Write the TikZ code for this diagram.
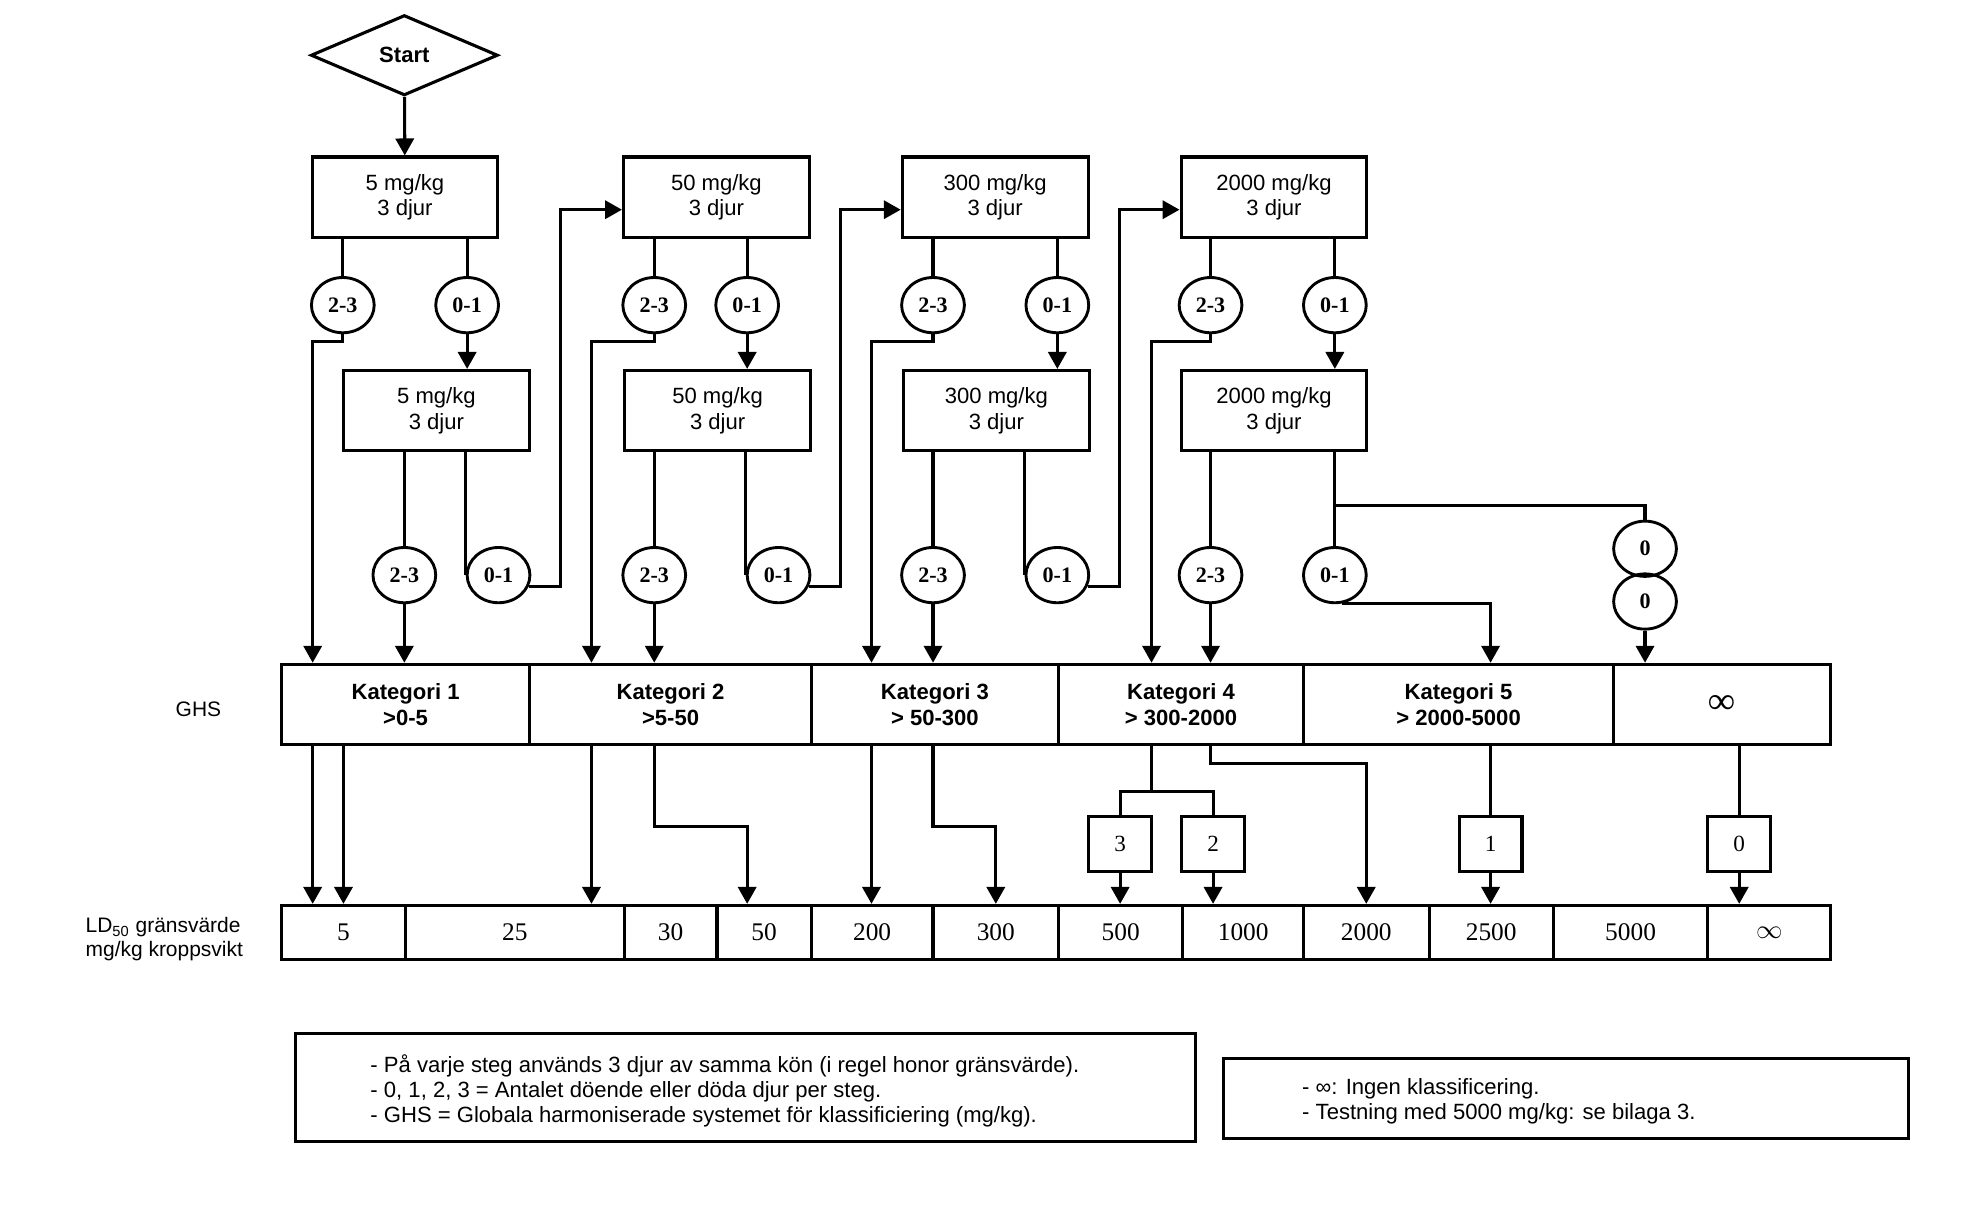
\documentclass[tikz,border=0pt]{standalone}
\usepackage{fontspec}
\setmainfont{Liberation Sans}
\newfontfamily\serifnum{Liberation Serif}
\usetikzlibrary{arrows.meta,shapes.geometric}

\begin{document}
\begin{tikzpicture}[x=0.02cm, y=-0.02cm,
    line/.style={line width=1.4pt},
    arr/.style={line width=1.4pt, -{Triangle[length=2.7mm,width=2.9mm]}},
    dose/.style={draw, line width=1.4pt, minimum width=2.96cm, minimum height=1.28cm,
      align=center, font=\fontsize{10}{11.5}\selectfont},
    cnt/.style={draw, ellipse, line width=1.3pt, minimum width=1cm, minimum height=0.88cm,
      inner sep=0pt, font=\serifnum\bfseries\fontsize{10}{11}\selectfont},
    kat/.style={draw, line width=1.4pt, minimum height=1.28cm, align=center,
      font=\bfseries\fontsize{10}{11.5}\selectfont},
    val/.style={draw, line width=1.4pt, minimum height=0.86cm,
      font=\serifnum\fontsize{11.5}{12}\selectfont},
    res/.style={draw, line width=1.4pt, minimum width=1cm, minimum height=0.88cm,
      font=\serifnum\fontsize{10.5}{12}\selectfont},
    note/.style={anchor=west, align=left, font=\fontsize{10}{11.4}\selectfont}]
  \fill[white] (0,0) rectangle (1568,979);
  \useasboundingbox (0,0) rectangle (1568,979);

  % start and dose steps
  \node[draw, diamond, line width=1.4pt, minimum width=2.98cm, minimum height=1.28cm,
    inner sep=0pt, font=\bfseries\fontsize{10}{12}\selectfont] (start) at (322,44) {Start};
  \node[dose] (a1) at (322.5,157) {5 mg/kg\\3 djur};
  \node[dose] (a2) at (570.5,157) {50 mg/kg\\3 djur};
  \node[dose] (a3) at (792.5,157) {300 mg/kg\\3 djur};
  \node[dose] (a4) at (1014.5,157) {2000 mg/kg\\3 djur};
  \node[dose] (b1) at (347.5,327) {5 mg/kg\\3 djur};
  \node[dose] (b2) at (571.5,327) {50 mg/kg\\3 djur};
  \node[dose] (b3) at (793.5,327) {300 mg/kg\\3 djur};
  \node[dose] (b4) at (1014.5,327) {2000 mg/kg\\3 djur};

  % dead animals per step
  \foreach \i/\xa/\xb/\xc/\xd in {1/273/372/322/397, 2/521/595/521/620,
      3/743/842/743/842, 4/964/1063/964/1063} {
    \node[cnt] (c\i1) at (\xa,243) {2-3};
    \node[cnt] (c\i2) at (\xb,243) {0-1};
    \node[cnt] (d\i1) at (\xc,458) {2-3};
    \node[cnt] (d\i2) at (\xd,458) {0-1};
  }
  \node[cnt] (o1) at (1310,437) {0};
  \node[cnt] (o2) at (1310,479) {0};

  % GHS categories
  \foreach \xl/\xr/\txt [count=\i] in {224/422/{Kategori 1\\>0-5}, 422/646/{Kategori 2\\>5-50},
      646/843/{Kategori 3\\> 50-300}, 843/1038/{Kategori 4\\> 300-2000},
      1038/1285/{Kategori 5\\> 2000-5000}} {
    \pgfmathsetmacro\cw{(\xr-\xl)*0.02}
    \pgfmathsetmacro\cx{(\xl+\xr)/2}
    \node[kat, minimum width=\cw cm] (k\i) at (\cx,561) {\txt};
  }
  \node[kat, minimum width=3.46cm, font=\serifnum\bfseries\fontsize{17}{17}\selectfont] (k6)
    at (1371.5,561) {∞};

  % LD50 cut-off values
  \foreach \xl/\xr/\txt [count=\i] in {224/323/5, 323/497/25, 497/571/30, 571/646/50,
      646/743/200, 743/843/300, 843/942/500, 942/1038/1000, 1038/1138/2000,
      1138/1237/2500, 1237/1360/5000} {
    \pgfmathsetmacro\cw{(\xr-\xl)*0.02}
    \pgfmathsetmacro\cx{(\xl+\xr)/2}
    \node[val, minimum width=\cw cm] (v\i) at (\cx,742.5) {\txt};
  }
  \node[val, minimum width=1.96cm, font=\fontsize{12}{12}\selectfont] (v12) at (1409,742.5)
    {$\infty$};

  \node[res] (n3) at (892,672) {3};
  \node[res] (n2) at (966,672) {2};
  \node[res] (n1) at (1187,672) {1};
  \node[res] (n0) at (1385,672) {0};

  \node[font=\fontsize{9.5}{11}\selectfont] (ghs) at (158,565) {GHS};
  \node[anchor=west, align=left, font=\fontsize{9.5}{10.8}\selectfont] (ld) at (62,748)
    {LD\textsubscript{50} gränsvärde\\mg/kg kroppsvikt};

  % connectors
  \draw[arr] (start) -- (a1);
  \foreach \i/\dx in {1/-24, 2/-50, 3/-49, 4/-47} {
    \draw[line] (a\i.south -| c\i1) -- (c\i1);
    \draw[line] (a\i.south -| c\i2) -- (c\i2);
    \draw[arr] (c\i2) -- (c\i2 |- b\i.north);
    \draw[line] (b\i.south -| d\i1) -- (d\i1);
    \draw[arr] (d\i1) -- (d\i1 |- k\i.north);
    \draw[arr] (c\i1.south) -- ++(0,6) -- ++(\dx,0) coordinate (t\i) -- (t\i |- k\i.north);
  }
  \foreach \i/\j in {1/2, 2/3, 3/4} {
    \draw[line] (b\i.south -| d\i2.west) -- (d\i2.west);
    \draw[arr] (d\i2.-20) -- ++(25,0) |- ([yshift=-0.2cm]a\j.west);
  }
  \draw[line] (b4.south -| d42) -- (d42);
  \draw[line] (b4.south -| d42) ++(0,42) -| (o1.north);
  \draw[arr] (o2) -- (o2 |- k6.north);
  \draw[arr] (d42.-75) -| (n1 |- k5.north);

  \draw[arr] (t1 |- k1.south) -- (t1 |- v1.north);
  \draw[arr] (k1.south -| v1) -- (v1.north);
  \draw[arr] (t2 |- k2.south) -- (t2 |- v2.north);
  \draw[arr] (k2.south -| c21) -- ++(0,64) -| (v4.north -| c22);
  \draw[arr] (t3 |- k3.south) -- (t3 |- v5.north);
  \draw[arr] (k3.south -| c31) -- ++(0,64) -| (v6.north);
  \draw[line] (t4 |- k4.south) -- ++(0,36) coordinate (m4);
  \draw[line] (n3.north) |- (m4) -| (n2.north);
  \draw[arr] (n3) -- (n3 |- v7.north);
  \draw[arr] (n2) -- (n2 |- v8.north);
  \draw[arr] (k4.south -| c41) -- ++(0,14) -| (v9.north);
  \draw[line] (k5.south -| n1) -- (n1);
  \draw[arr] (n1) -- (n1 |- v10.north);
  \draw[line] (k6.south -| n0) -- (n0);
  \draw[arr] (n0) -- (n0 |- v12.north);

  % notes
  \node[draw, line width=1.4pt, minimum width=14.34cm, minimum height=1.72cm] (leg1) at (593.5,866) {};
  \node[note] (txt1) at ([xshift=1.1cm, yshift=-0.05cm]leg1.west)
    {- På varje steg används 3 djur av samma kön (i regel honor gränsvärde).\\
     - 0, 1, 2, 3 = Antalet döende eller döda djur per steg.\\
     - GHS = Globala harmoniserade systemet för klassificiering (mg/kg).};
  \node[draw, line width=1.4pt, minimum width=10.92cm, minimum height=1.28cm] (leg2) at (1247,875) {};
  \node[note] (txt2) at ([xshift=1.16cm, yshift=-0.04cm]leg2.west)
    {- ∞: Ingen klassificering.\\
     - Testning med 5000 mg/kg: se bilaga 3.};
\end{tikzpicture}
\end{document}
